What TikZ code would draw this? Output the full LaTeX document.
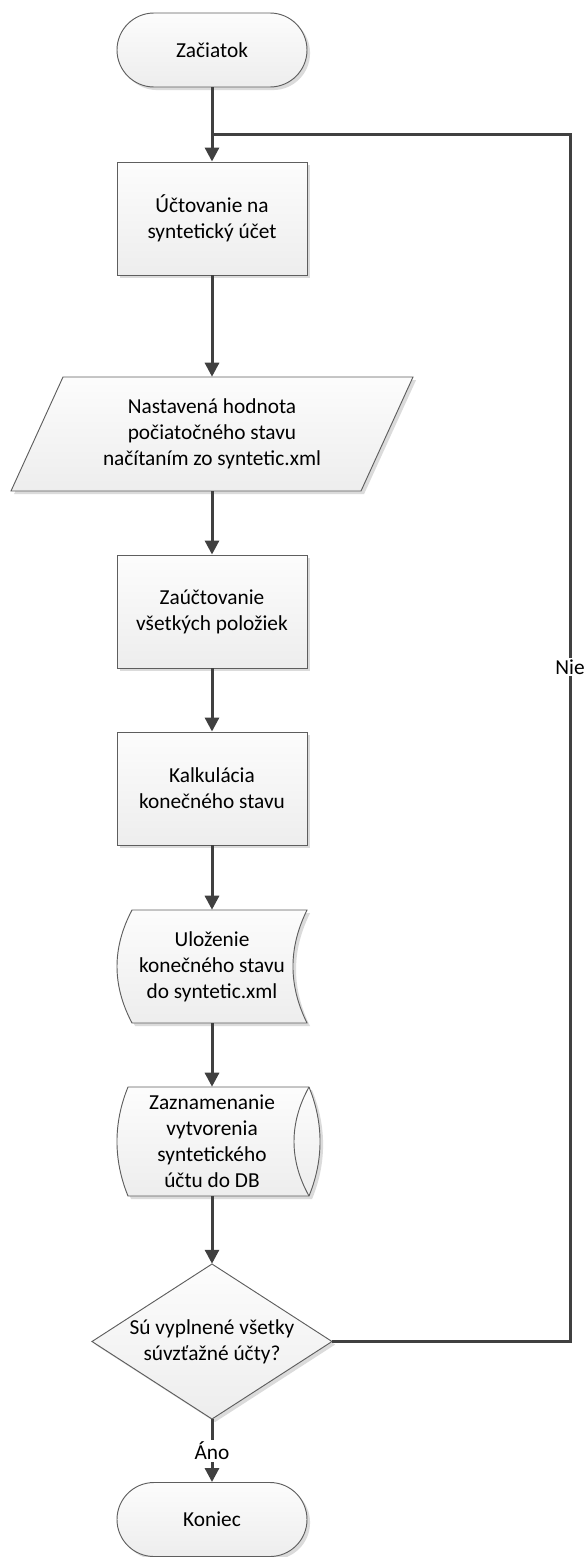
\documentclass[tikz,border=0pt]{standalone}
\usepackage{fontspec}
\setmainfont{Carlito}
\usetikzlibrary{arrows.meta,shapes.misc,shadows}

\definecolor{wire}{HTML}{404040}
\definecolor{rim}{HTML}{5E5E5E}

\tikzset{
  txt/.style={font=\fontsize{16}{19.5}\selectfont, align=center, text=black},
  body/.style={draw=rim, line width=0.7pt, top color=black!1, bottom color=black!7,
    general shadow={fill=black!14, shadow xshift=2.3pt, shadow yshift=-2.3pt}},
  terminal/.style={txt, body, rounded rectangle, minimum width=142.5pt, minimum height=55.5pt, inner sep=0pt},
  process/.style={txt, body, rectangle, minimum width=142.5pt, minimum height=84.75pt, inner sep=0pt},
  holder/.style={txt, inner sep=0pt},
  conn/.style={draw=wire, line width=2.25pt},
  flow/.style={conn, -{Triangle[length=10.5pt, width=10.5pt]}},
  lab/.style={txt, fill=white, inner sep=1.5pt}
}

\begin{document}
\begin{tikzpicture}[x=0.75pt, y=-0.75pt]
\useasboundingbox (0,0) rectangle (588,1557);

% start and first step
\node[terminal] (start) at (212,50) {Začiatok};
\node[process] (post) at (212,218.5) {Účtovanie na\\syntetický účet};

% input: parallelogram
\path[body] (63,377) -- (413,377) -- (361,491) -- (11,491) -- cycle;
\node[holder, minimum width=262pt, minimum height=85.5pt] (init) at (212,434)
  {Nastavená hodnota\\počiatočného stavu\\načítaním zo syntetic.xml};

\node[process] (items) at (212,611.5) {Zaúčtovanie\\všetkých položiek};
\node[process] (calc) at (212,788.5) {Kalkulácia\\konečného stavu};

% stored data
\path[body] (132,910) -- (307,910) .. controls (288.3,948) and (288.3,985) .. (307,1023)
  -- (132,1023) .. controls (112,985) and (112,948) .. (132,910) -- cycle;
\node[holder, minimum width=131pt, minimum height=84.75pt] (save) at (212,966.5)
  {Uloženie\\konečného stavu\\do syntetic.xml};

% direct access storage
\path[body] (128,1087) -- (309,1087) .. controls (323.7,1123) and (323.7,1160) .. (309,1196)
  -- (128,1196) .. controls (113.3,1160) and (113.3,1123) .. (128,1087) -- cycle;
\draw[draw=rim, line width=0.7pt] (309,1087) .. controls (289,1123) and (289,1160) .. (309,1196);
\node[holder, minimum width=130pt, minimum height=81.75pt] (record) at (212,1141.5)
  {Zaznamenanie\\vytvorenia\\syntetického\\účtu do DB};

% decision
\path[body] (212,1264) -- (332,1341.5) -- (212,1419) -- (92,1341.5) -- cycle;
\node[holder, minimum width=180pt, minimum height=116.25pt] (check) at (212,1341.5)
  {Sú vyplnené všetky\\súvzťažné účty?};

\node[terminal] (stop) at (212,1519.5) {Koniec};

% connectors
\coordinate (join) at (212,134);
\coordinate (loopB) at (570,1341.5);
\coordinate (loopT) at (570,134);

\draw[flow] (start.south) -- (post.north);
\draw[flow] (post.south) -- (init.north);
\draw[flow] (init.south) -- (items.north);
\draw[flow] (items.south) -- (calc.north);
\draw[flow] (calc.south) -- (save.north);
\draw[flow] (save.south) -- (record.north);
\draw[flow] (record.south) -- (check.north);
\draw[conn] (check.east) -- (loopB) -- node[lab, pos=0.5586] {Nie} (loopT) -- (join);
\draw[flow] (check.south) -- node[lab, pos=0.5] {Áno} (stop.north);
\end{tikzpicture}
\end{document}
